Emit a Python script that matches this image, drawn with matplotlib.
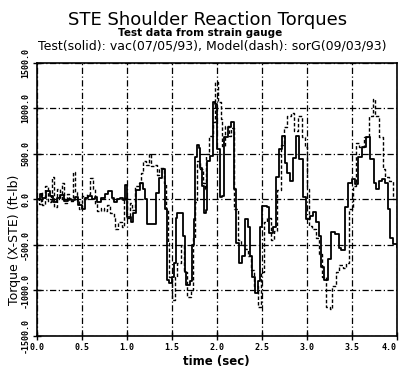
""" STE shoulder reaction torques: test vs model """

from matplotlib import pyplot as plt
import numpy as np

# test data (solid), time in sec / torque in ft-lb
test_t = [0.00, 0.03, 0.06, 0.10, 0.14, 0.18, 0.22, 0.26, 0.30, 0.34, 0.38,
          0.42, 0.46, 0.50, 0.53, 0.57, 0.61, 0.64, 0.67, 0.71, 0.75, 0.79,
          0.83, 0.86, 0.89, 0.92, 0.96, 0.98, 1.00, 1.04, 1.07, 1.10, 1.14,
          1.18, 1.20, 1.22, 1.30, 1.32, 1.35, 1.39, 1.42, 1.44, 1.47, 1.50,
          1.52, 1.54, 1.56, 1.60, 1.62, 1.64, 1.66, 1.70, 1.72, 1.74, 1.76,
          1.78, 1.80, 1.81, 1.83, 1.85, 1.88, 1.89, 1.92, 1.95, 1.98, 2.00,
          2.03, 2.06, 2.08, 2.12, 2.16, 2.19, 2.21, 2.24, 2.28, 2.31, 2.34,
          2.37, 2.39, 2.42, 2.45, 2.48, 2.50, 2.55, 2.58, 2.62, 2.65, 2.69,
          2.72, 2.75, 2.78, 2.81, 2.84, 2.88, 2.91, 2.95, 2.99, 3.03, 3.07,
          3.10, 3.13, 3.16, 3.19, 3.23, 3.27, 3.31, 3.35, 3.38, 3.42, 3.46,
          3.50, 3.53, 3.57, 3.61, 3.66, 3.70, 3.74, 3.77, 3.80, 3.83, 3.87,
          3.90, 3.92, 3.96, 4.00]
test_v = [0, 60, 20, 90, 40, -30, 20, 50, -20, 10, -10,
          30, -60, -110, 20, 40, 10, 30, -30, 20, 60, 90,
          20, -30, 10, 20, -10, 160, -190, -250, -150, 100, 180,
          120, 10, -270, -270, 70, 240, 330, -100, -880, -920, -850,
          -700, -200, -145, -150, -400, -800, -940, -900, -500, -220, 470,
          600, 560, 340, 150, -150, -120, 420, 480, 1070, 1050, 550,
          30, 40, 690, 800, 850, 110, -475, -700, -620, -220, -300,
          -620, -850, -1030, -900, -300, -75, -80, -370, -300, 250, 550,
          700, 400, 290, 200, 450, 700, 440, 30, -220, -180, -140,
          -250, -400, -740, -880, -650, -360, -380, -530, -560, -80, 180,
          220, 170, 470, 580, 690, 440, 180, 110, 200, 220, 180,
          -110, -420, -490, -520]

# model data (dash)
model_t = [0.00, 0.02, 0.04, 0.06, 0.09, 0.12, 0.15, 0.17, 0.19, 0.22, 0.25,
           0.28, 0.30, 0.33, 0.36, 0.40, 0.42, 0.44, 0.47, 0.50, 0.53, 0.56,
           0.59, 0.62, 0.64, 0.67, 0.71, 0.74, 0.78, 0.81, 0.85, 0.87, 0.90,
           0.94, 0.97, 1.00, 1.03, 1.06, 1.09, 1.13, 1.16, 1.18, 1.21, 1.24,
           1.27, 1.30, 1.33, 1.36, 1.39, 1.41, 1.43, 1.45, 1.47, 1.50, 1.53,
           1.56, 1.60, 1.63, 1.67, 1.71, 1.73, 1.76, 1.78, 1.81, 1.84, 1.87,
           1.88, 1.91, 1.95, 1.98, 2.01, 2.04, 2.06, 2.09, 2.13, 2.16, 2.19,
           2.23, 2.27, 2.31, 2.34, 2.38, 2.41, 2.45, 2.49, 2.52, 2.56, 2.60,
           2.63, 2.67, 2.71, 2.74, 2.78, 2.82, 2.86, 2.90, 2.94, 2.98, 3.00,
           3.02, 3.06, 3.10, 3.13, 3.17, 3.21, 3.25, 3.28, 3.32, 3.36, 3.40,
           3.43, 3.47, 3.51, 3.54, 3.58, 3.63, 3.69, 3.73, 3.76, 3.80, 3.84,
           3.87, 3.91, 3.95, 4.00]
model_v = [0, -50, 80, -60, 150, -30, 40, 250, -80, 120, 0,
           180, -40, 60, -20, 300, 80, -20, -100, 40, 10, 60,
           230, 120, -50, -130, -90, -130, -60, -150, -200, -330, -250,
           -300, 20, -200, -40, -120, 150, 180, 290, 420, 380, 500,
           370, 380, 270, 340, 340, 180, -110, -480, -850, -1100, -850,
           -700, -500, -800, -1070, -1000, -420, -30, 420, 330, 180, 120,
           500, 700, 850, 1290, 1070, 880, 590, 810, 700, 780, -110,
           -450, -500, -540, -620, -770, -950, -1180, -800, -250, -200, -450,
           -350, 100, 600, 800, 920, 950, 750, 920, 690, 580, 110,
           -290, -320, -420, -600, -850, -1180, -1200, -950, -800, -720, -750,
           -700, -110, 150, 620, 580, 690, 920, 1100, 920, 690, 330,
           250, 200, 0, -140]

x_ticks = [0.0, 0.5, 1.0, 1.5, 2.0, 2.5, 3.0, 3.5, 4.0]
y_ticks = [-1500, -1000, -500, 0, 500, 1000, 1500]

fig = plt.figure(figsize=(4.0, 3.7), dpi=100)
ax = fig.add_axes([0.0925, 0.092, 0.9, 0.738])

ax.plot(test_t, test_v, color="black", lw=1.3, drawstyle="steps-post")
ax.plot(model_t, model_v, color="black", lw=1.0, ls=(0, (2.5, 1.5)),
        drawstyle="steps-post")

ax.set_xlim(0, 4)
ax.set_ylim(-1500, 1500)
ax.set_xticks(x_ticks)
ax.set_yticks(y_ticks)
xl = ax.set_xticklabels(["%.1f" % v for v in x_ticks], fontsize=6,
                        fontweight="bold", family="DejaVu Sans Mono")
xl[-1].set_horizontalalignment("right")
ax.set_yticklabels(["%.1f" % v for v in y_ticks], fontsize=6,
                   fontweight="bold", rotation=90, va="center",
                   family="DejaVu Sans Mono")
ax.tick_params(direction="inout", length=6, width=1.0, pad=2)
ax.grid(True, color="black", ls=(0, (5, 2, 1, 2)), lw=0.9)
for s in ax.spines.values():
    s.set_linewidth(1.2)

fig.text(0.52, 0.946, "STE Shoulder Reaction Torques", ha="center",
         va="center", fontsize=13)
fig.text(0.5, 0.911, "Test data from strain gauge", ha="center",
         va="center", fontsize=7.5, fontweight="bold")
fig.text(0.53, 0.877, "Test(solid): vac(07/05/93), Model(dash): sorG(09/03/93)",
         ha="center", va="center", fontsize=9)
fig.text(0.037, 1 - 240 / 370, "Torque (X-STE) (ft-lb)", rotation=90,
         ha="center", va="center", fontsize=9)
fig.text(0.54, 1 - 361 / 370, "time (sec)", ha="center", va="center",
         fontsize=8.5, fontweight="bold")

fig.savefig("out.png", dpi=100)
